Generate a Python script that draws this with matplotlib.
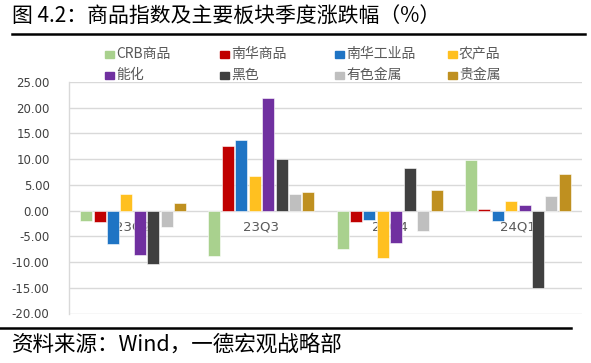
import matplotlib
matplotlib.use("Agg")
import matplotlib.pyplot as plt
from matplotlib.patches import Rectangle
from matplotlib.lines import Line2D
import numpy as np

plt.rcParams['font.family'] = ['Noto Sans CJK SC', 'DejaVu Sans']

categories = ["23Q2", "23Q3", "23Q4", "24Q1"]
series_names = ["CRB商品", "南华商品", "南华工业品", "农产品", "能化", "黑色", "有色金属", "贵金属"]
series_colors = ["#A9D18E", "#C00000", "#1F74C4", "#FFC020", "#7030A0", "#404040", "#BFBFBF", "#BF9020"]
crb = [-2.1, -8.8, -7.4, 9.9]
nanhua = [-2.3, 12.5, -2.3, 0.25]
nanhua_ind = [-6.4, 13.7, -1.9, -2.1]
agri = [3.2, 6.8, -9.2, 1.8]
energy_chem = [-8.7, 21.8, -6.3, 1.0]
ferrous = [-10.3, 10.1, 8.3, -15.1]
nonferrous = [-3.2, 3.2, -3.9, 2.9]
precious = [1.5, 3.6, 4.0, 7.1]
series_values = [crb, nanhua, nanhua_ind, agri, energy_chem, ferrous, nonferrous, precious]
yticks = np.arange(-20, 26, 5)

W, H = 591, 363
fig = plt.figure(figsize=(W / 100, H / 100), dpi=100)
ax = fig.add_axes([69 / W, 1 - 313.5 / H, (582 - 69) / W, (313.5 - 82) / H])

x = np.arange(len(categories))
slot = 13.4 / 128
bw = 12.0 / 128
n = len(series_values)
for i, (vals, col) in enumerate(zip(series_values, series_colors)):
    ax.bar(x + (i - (n - 1) / 2) * slot, vals, width=bw, color=col,
           edgecolor='white', linewidth=0.4, zorder=3)

ax.set_xlim(-0.5, len(categories) - 0.5)
ax.set_ylim(-20, 25)
ax.set_yticks(yticks)
ax.set_yticklabels([f"{v:.2f}" for v in yticks], fontsize=8.5, color='#404040',
                   family=['DejaVu Sans'])
ax.set_xticks([])
for s in ['top', 'right', 'bottom']:
    ax.spines[s].set_visible(False)
ax.spines['left'].set_color('#D9D9D9')
ax.spines['left'].set_linewidth(1.0)
ax.tick_params(axis='y', length=0, pad=14)
ax.yaxis.grid(True, color='#D9D9D9', linewidth=1.0, zorder=0)
ax.set_axisbelow(True)

for xi, c in zip(x, categories):
    ax.annotate(c, (xi, 0), xytext=(0, -10), textcoords='offset pixels',
                ha='center', va='top', fontsize=9.5, color='#595959',
                family=['DejaVu Sans'], zorder=2)

# legend (manual)
col_x = [105, 220, 335, 448]
row_y = [54, 75]
for i, (name, col) in enumerate(zip(series_names, series_colors)):
    r, c = divmod(i, 4)
    lx, ly = col_x[c], row_y[r]
    fig.patches.append(Rectangle((lx / W, 1 - (ly + 3.5) / H), 8.5 / W, 7 / H,
                                 transform=fig.transFigure, color=col))
    fig.text((lx + 11) / W, 1 - ly / H, name, fontsize=10, color='#595959',
             va='center', ha='left')

# title and source
fig.text(12 / W, 1 - 17 / H, "图 4.2：商品指数及主要板块季度涨跌幅（%）",
         fontsize=15, color='black', va='center', ha='left')
fig.add_artist(Line2D([12 / W, 585 / W], [1 - 34 / H, 1 - 34 / H],
                      transform=fig.transFigure, color='black', linewidth=1.8))
fig.add_artist(Line2D([0 / W, 571 / W], [1 - 328 / H, 1 - 328 / H],
                      transform=fig.transFigure, color='black', linewidth=1.8))
fig.text(12 / W, 1 - 345 / H, "资料来源：Wind，一德宏观战略部",
         fontsize=15.5, color='black', va='center', ha='left')

fig.savefig("out.png", dpi=100)
